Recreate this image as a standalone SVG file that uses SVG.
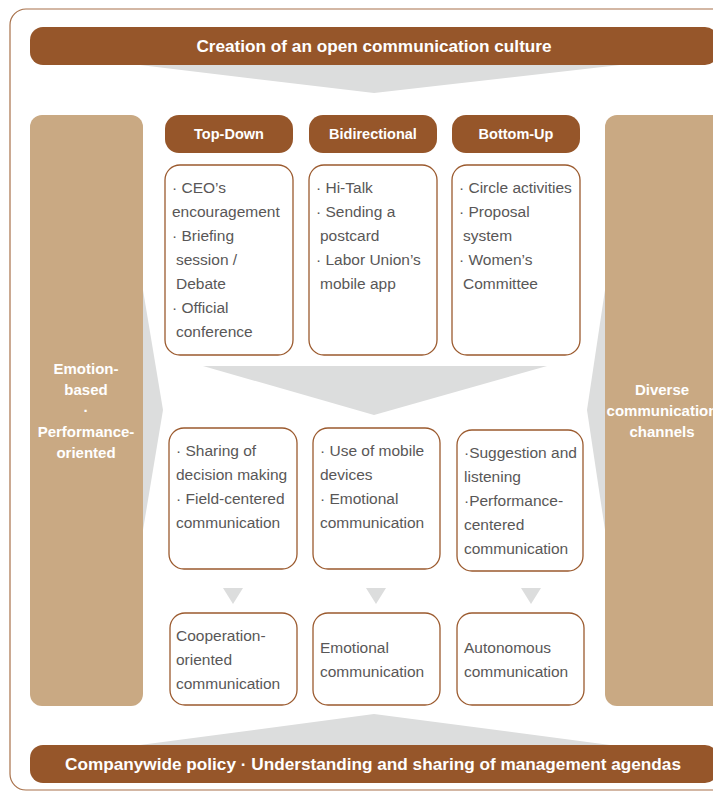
<svg xmlns="http://www.w3.org/2000/svg" width="713" height="792" viewBox="0 0 713 792">
<style>
.bg{fill:#ffffff}
.frame{fill:none;stroke:#a8714a;stroke-width:1.2}
.banner{fill:#96562a}
.tan{fill:#c9a983}
.funnel{fill:#dcdddd}
.pill{fill:#96562a}
.box{fill:#ffffff;stroke:#9b5a2e;stroke-width:1.3}
.bt{font-family:"Liberation Sans",Arial,sans-serif;font-weight:bold;fill:#ffffff;text-anchor:middle}
.big{font-size:17.2px}
.hd{font-size:14.5px}
.col{font-size:15px}
.it{font-family:"Liberation Sans",Arial,sans-serif;font-size:15.5px;fill:#595757}
</style>
<rect class="bg" width="713" height="792"/>
<rect class="frame" x="10" y="9" width="740" height="781" rx="16"/>

<g id="connectors">
  <polygon class="funnel" points="140,65 620,65 374,93"/>
  <polygon class="funnel" points="203,366 547,366 374,415"/>
  <polygon class="funnel" points="143,290 163,410 143,530"/>
  <polygon class="funnel" points="605,290 587,410 605,530"/>
  <polygon class="funnel" points="223,588 243,588 233,604"/>
  <polygon class="funnel" points="366,588 386,588 376,604"/>
  <polygon class="funnel" points="521,588 541,588 531,604"/>
  <polygon class="funnel" points="374,714 610,745 140,745"/>
</g>

<g id="top-banner">
  <rect class="banner" x="30" y="27" width="688" height="38" rx="13"/>
  <text class="bt big" x="374" y="52">Creation of an open communication culture</text>
</g>

<g id="left-column">
  <rect class="tan" x="30" y="115" width="113" height="591" rx="12"/>
  <text class="bt col" x="86" y="374">Emotion-</text>
  <text class="bt col" x="86" y="395">based</text>
  <text class="bt col" x="86" y="416">·</text>
  <text class="bt col" x="86" y="437">Performance-</text>
  <text class="bt col" x="86" y="458">oriented</text>
</g>

<g id="right-column">
  <rect class="tan" x="605" y="115" width="130" height="591" rx="12"/>
  <text class="bt col" x="662" y="395">Diverse</text>
  <text class="bt col" x="662" y="416">communication</text>
  <text class="bt col" x="662" y="437">channels</text>
</g>

<g id="top-down">
  <rect class="pill" x="165" y="115" width="128" height="38" rx="14"/>
  <text class="bt hd" x="229" y="139">Top-Down</text>
</g>
<g id="bidirectional">
  <rect class="pill" x="309" y="115" width="128" height="38" rx="14"/>
  <text class="bt hd" x="373" y="139">Bidirectional</text>
</g>
<g id="bottom-up">
  <rect class="pill" x="452" y="115" width="128" height="38" rx="14"/>
  <text class="bt hd" x="516" y="139">Bottom-Up</text>
</g>

<g id="top-down-items">
  <rect class="box" x="165" y="165" width="128" height="190" rx="15"/>
  <text class="it" x="172" y="193">· CEO’s</text>
  <text class="it" x="172" y="217">encouragement</text>
  <text class="it" x="172" y="241">· Briefing</text>
  <text class="it" x="176" y="265">session /</text>
  <text class="it" x="176" y="289">Debate</text>
  <text class="it" x="172" y="313">· Official</text>
  <text class="it" x="176" y="337">conference</text>
</g>
<g id="bidirectional-items">
  <rect class="box" x="309" y="165" width="128" height="190" rx="15"/>
  <text class="it" x="316" y="193">· Hi-Talk</text>
  <text class="it" x="316" y="217">· Sending a</text>
  <text class="it" x="320" y="241">postcard</text>
  <text class="it" x="316" y="265">· Labor Union’s</text>
  <text class="it" x="320" y="289">mobile app</text>
</g>
<g id="bottom-up-items">
  <rect class="box" x="452" y="165" width="128" height="190" rx="15"/>
  <text class="it" x="459" y="193">· Circle activities</text>
  <text class="it" x="459" y="217">· Proposal</text>
  <text class="it" x="463" y="241">system</text>
  <text class="it" x="459" y="265">· Women’s</text>
  <text class="it" x="463" y="289">Committee</text>
</g>

<g id="mid-left">
  <rect class="box" x="169" y="428" width="128" height="141" rx="15"/>
  <text class="it" x="176" y="456">· Sharing of</text>
  <text class="it" x="176" y="480">decision making</text>
  <text class="it" x="176" y="504">· Field-centered</text>
  <text class="it" x="176" y="528">communication</text>
</g>
<g id="mid-center">
  <rect class="box" x="313" y="428" width="127" height="141" rx="15"/>
  <text class="it" x="320" y="456">· Use of mobile</text>
  <text class="it" x="320" y="480">devices</text>
  <text class="it" x="320" y="504">· Emotional</text>
  <text class="it" x="320" y="528">communication</text>
</g>
<g id="mid-right">
  <rect class="box" x="457" y="430" width="126" height="141" rx="15"/>
  <text class="it" x="464" y="458">·Suggestion and</text>
  <text class="it" x="464" y="482">listening</text>
  <text class="it" x="464" y="506">·Performance-</text>
  <text class="it" x="464" y="530">centered</text>
  <text class="it" x="464" y="554">communication</text>
</g>

<g id="cooperation">
  <rect class="box" x="170" y="613" width="127" height="92" rx="15"/>
  <text class="it" x="176" y="641">Cooperation-</text>
  <text class="it" x="176" y="665">oriented</text>
  <text class="it" x="176" y="689">communication</text>
</g>
<g id="emotional">
  <rect class="box" x="313" y="613" width="127" height="92" rx="15"/>
  <text class="it" x="320" y="653">Emotional</text>
  <text class="it" x="320" y="677">communication</text>
</g>
<g id="autonomous">
  <rect class="box" x="457" y="613" width="127" height="92" rx="15"/>
  <text class="it" x="464" y="653">Autonomous</text>
  <text class="it" x="464" y="677">communication</text>
</g>

<g id="bottom-banner">
  <rect class="banner" x="30" y="745" width="688" height="38" rx="13"/>
  <text class="bt big" x="373" y="770">Companywide policy · Understanding and sharing of management agendas</text>
</g>
</svg>
